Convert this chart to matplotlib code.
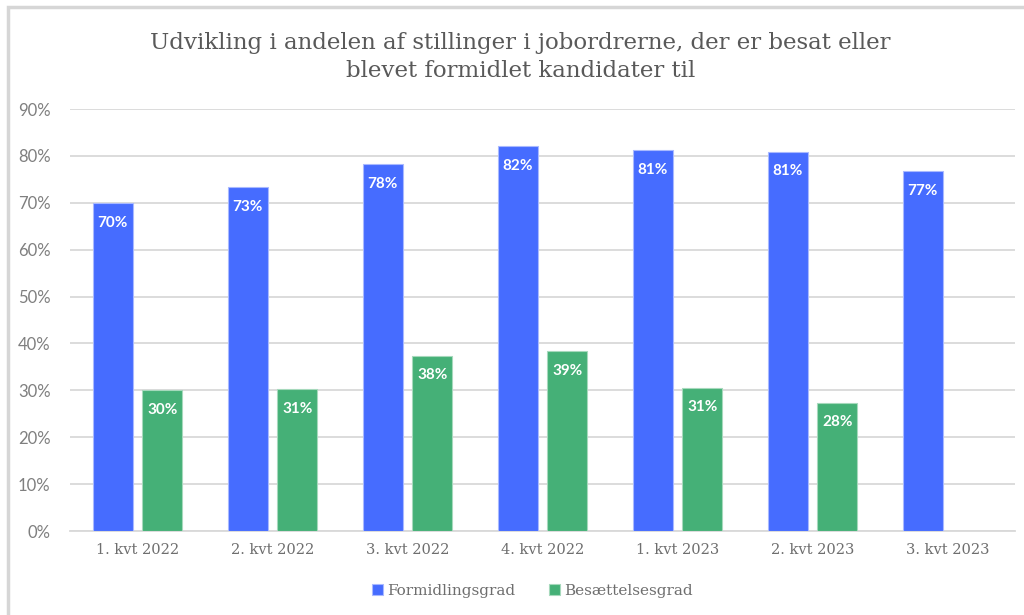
import matplotlib
matplotlib.use("Agg")
import matplotlib.pyplot as plt
import numpy as np
from matplotlib.patches import Rectangle

categories = ["1. kvt 2022", "2. kvt 2022", "3. kvt 2022", "4. kvt 2022",
              "1. kvt 2023", "2. kvt 2023", "3. kvt 2023"]
formidling = [69.9, 73.3, 78.2, 82.1, 81.2, 80.9, 76.8]
formidling_labels = ["70%", "73%", "78%", "82%", "81%", "81%", "77%"]
besaettelse = [30.1, 30.3, 37.4, 38.4, 30.6, 27.4, None]
besaettelse_labels = ["30%", "31%", "38%", "39%", "31%", "28%", None]
series_names = ["Formidlingsgrad", "Besættelsesgrad"]
yticks = [0, 10, 20, 30, 40, 50, 60, 70, 80, 90]
title = "Udvikling i andelen af stillinger i jobordrerne, der er besat eller\nblevet formidlet kandidater til"

BLUE = "#466CFF"
GREEN = "#45B077"
GRAY = "#7F7F7F"

fig = plt.figure(figsize=(10.24, 6.15), dpi=100)
fig.patch.set_facecolor("white")
# screenshot frame
fig.add_artist(Rectangle((8/1024, -0.1), 1.2, (615-7)/615 + 0.1, transform=fig.transFigure,
                         fill=False, edgecolor="#D6D6D6", linewidth=2.5))

ax = fig.add_axes([70/1024, (615-531)/615, (1015-70)/1024, (531-109)/615])
x = np.arange(len(categories))
w = 0.296
off = 0.185

bl = ax.bar(x - off, formidling, width=w, color=BLUE, edgecolor="#A9B9FF", linewidth=0.8, zorder=3)
gx = [xi + off for xi, v in zip(x, besaettelse) if v is not None]
gv = [v for v in besaettelse if v is not None]
gr = ax.bar(gx, gv, width=w, color=GREEN, edgecolor="#A6D9BC", linewidth=0.8, zorder=3)

for xi, v, lab in zip(x, formidling, formidling_labels):
    ax.text(xi - off, v - 4.2, lab, ha="center", va="center", color="white",
            fontsize=11, fontweight="bold", family="Lato", zorder=4)
for xi, v, lab in zip(x, besaettelse, besaettelse_labels):
    if v is None:
        continue
    ax.text(xi + off, v - 4.2, lab, ha="center", va="center", color="white",
            fontsize=11, fontweight="bold", family="Lato", zorder=4)

ax.set_xlim(-0.5, len(categories) - 0.5)
ax.set_ylim(0, 90)
ax.set_yticks(yticks)
ax.set_yticklabels([f"{t}%" for t in yticks], family="Lato", fontsize=12, color=GRAY)
ax.set_xticks(x)
ax.set_xticklabels(categories, family="DejaVu Serif", fontsize=10.5, color="#6E6E6E")
ax.tick_params(axis="both", length=0)
ax.tick_params(axis="y", pad=14)
ax.tick_params(axis="x", pad=9)
ax.grid(axis="y", color="#D9D9D9", linewidth=1.3, zorder=0)
for s in ["top", "right", "left"]:
    ax.spines[s].set_visible(False)
ax.spines["bottom"].set_color("#D9D9D9")
ax.spines["bottom"].set_linewidth(1.3)

fig.text(0.508, 1 - 57/615, title, ha="center", va="center", fontsize=16.5,
         family="DejaVu Serif", color="#595959", linespacing=1.35)

leg = fig.legend([bl, gr], series_names, loc="center", bbox_to_anchor=(0.52, 1 - 591/615),
                 ncol=2, frameon=False, handlelength=0.7, handleheight=0.7,
                 handletextpad=0.3, columnspacing=2.2,
                 prop={"family": "DejaVu Serif", "size": 11})
for t in leg.get_texts():
    t.set_color("#6E6E6E")

fig.savefig("out.png", dpi=100, facecolor="white")
